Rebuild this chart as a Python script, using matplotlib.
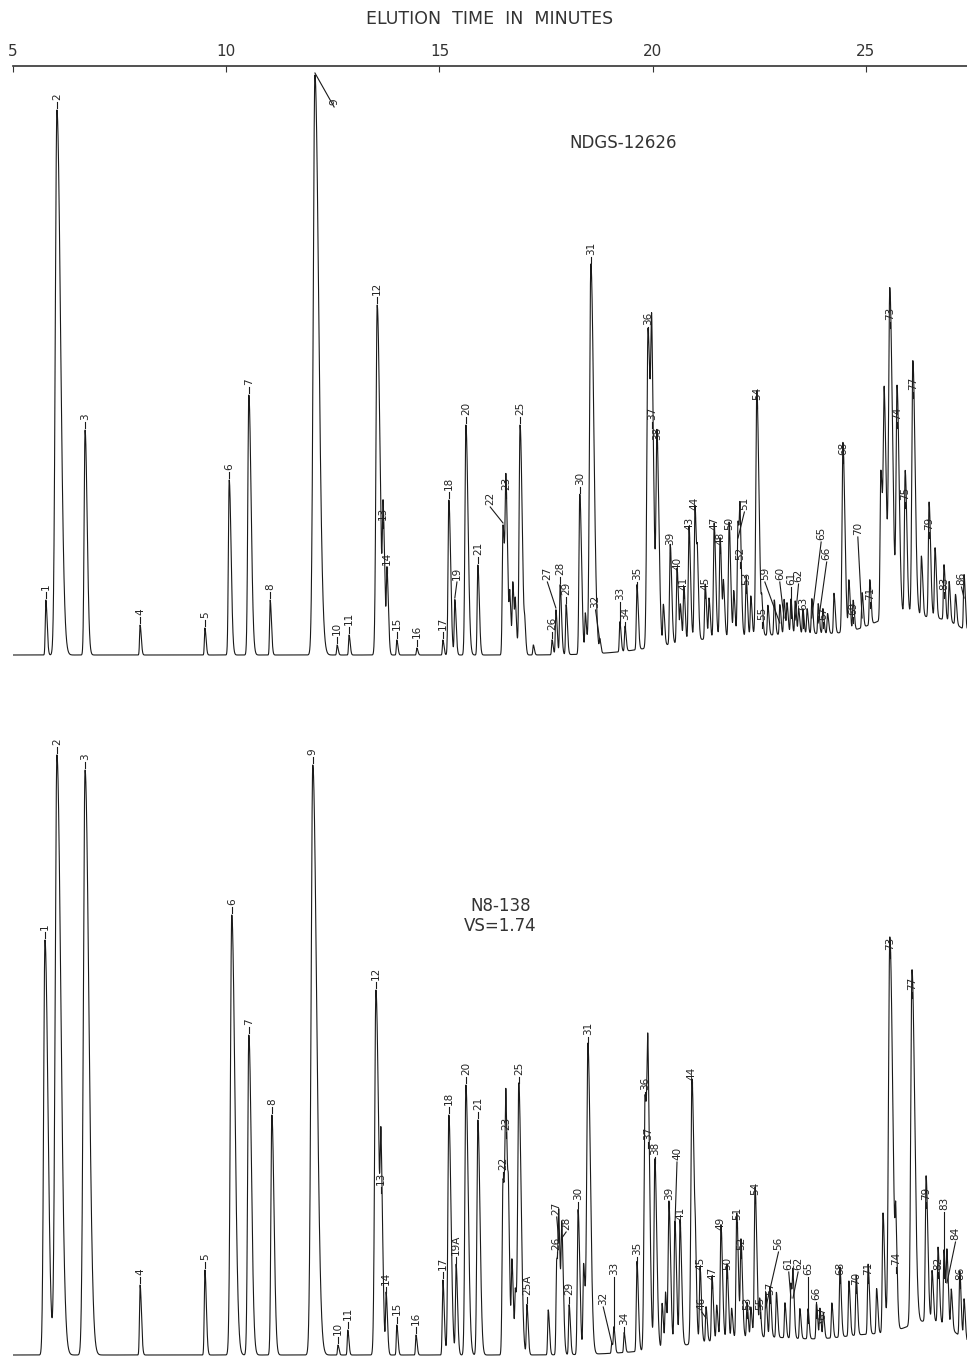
import numpy as np
import matplotlib.pyplot as plt

# ======================================================
# PEAK TABLES (retention time in min, height above baseline)
# ======================================================

top_labels = ["1", "2", "3", "4", "5", "6", "7", "8", "9", "10", "11", "12",
              "13", "14", "15", "16", "17", "18", "19", "20", "21", "22", "23",
              "25", "26", "27", "28", "29", "30", "31", "32", "33", "34", "35",
              "36", "37", "38", "39", "40", "41", "43", "44", "45", "47", "48",
              "50", "51", "52", "53", "54", "55", "59", "60", "61", "62", "63",
              "65", "66", "67", "68", "69", "70", "71", "73", "74", "75", "77",
              "79", "83", "86"]
top_times = [5.77, 6.03, 6.69, 7.98, 9.50, 10.07, 10.53, 11.03, 12.08, 12.60,
             12.88, 13.54, 13.68, 13.77, 14.00, 14.47, 15.08, 15.22, 15.36,
             15.62, 15.90, 16.49, 16.56, 16.89, 17.64, 17.73, 17.83, 17.97,
             18.29, 18.55, 18.76, 19.23, 19.35, 19.63, 19.89, 19.98, 20.10,
             20.41, 20.57, 20.73, 20.85, 20.99, 21.23, 21.44, 21.58, 21.79,
             22.00, 22.05, 22.19, 22.44, 22.56, 22.98, 23.08, 23.24, 23.34,
             23.52, 23.73, 23.88, 23.99, 24.46, 24.70, 24.91, 25.09, 25.56,
             25.73, 25.92, 26.10, 26.48, 26.83, 27.30]
top_heights = [55, 545, 225, 30, 27, 175, 260, 55, 580, 10, 20, 350, 125, 80,
               15, 7, 15, 155, 55, 230, 90, 130, 155, 230, 15, 45, 70, 50, 160,
               390, 12, 30, 25, 65, 320, 225, 205, 100, 75, 55, 115, 135, 55,
               115, 100, 115, 115, 85, 60, 245, 25, 30, 35, 35, 33, 25, 35, 30,
               25, 190, 30, 35, 45, 325, 225, 145, 255, 115, 55, 55]

# unlabelled minor peaks
top_minor_t = [16.65, 16.72, 16.78, 17.00, 17.20, 18.42, 20.25, 20.65, 21.05,
               21.32, 21.66, 21.90, 22.30, 22.70, 22.85, 23.15, 23.42, 23.62,
               24.10, 24.25, 24.60, 25.35, 25.43, 26.30, 26.62, 26.95, 27.10]
top_minor_h = [50, 70, 45, 20, 10, 40, 40, 35, 50, 40, 50, 45, 40, 30, 35, 30,
               25, 25, 20, 40, 50, 150, 210, 60, 70, 40, 30]

# unresolved hump (centre, height, width)
top_hump_t = [21.5, 24.0, 25.8, 27.0]
top_hump_h = [15, 18, 30, 25]
top_hump_w = [1.3, 1.2, 0.7, 0.6]

bot_labels = ["1", "2", "3", "4", "5", "6", "7", "8", "9", "10", "11", "12",
              "13", "14", "15", "16", "17", "18", "19A", "20", "21", "22", "23",
              "25", "25A", "26", "27", "28", "29", "30", "31", "32", "33", "34",
              "35", "36", "37", "38", "39", "40", "41", "44", "45", "46", "47",
              "49", "50", "51", "52", "53", "54", "55", "56", "57", "61", "62",
              "65", "66", "67", "68", "70", "71", "73", "74", "77", "79", "82",
              "83", "84", "86"]
bot_times = [5.75, 6.03, 6.69, 7.98, 9.50, 10.13, 10.53, 11.07, 12.03, 12.62,
             12.85, 13.51, 13.63, 13.75, 14.00, 14.45, 15.08, 15.22, 15.39,
             15.62, 15.90, 16.49, 16.56, 16.86, 17.05, 17.75, 17.80, 17.87,
             18.04, 18.25, 18.48, 19.04, 19.09, 19.33, 19.63, 19.82, 19.89,
             20.05, 20.38, 20.52, 20.64, 20.92, 21.11, 21.25, 21.39, 21.60,
             21.74, 21.97, 22.07, 22.21, 22.40, 22.51, 22.65, 22.75, 23.24,
             23.29, 23.64, 23.84, 23.92, 24.39, 24.77, 25.05, 25.56, 25.70,
             26.08, 26.41, 26.69, 26.83, 26.90, 27.20]
bot_heights = [415, 600, 585, 70, 85, 440, 320, 240, 590, 10, 25, 365, 160, 60,
               30, 20, 75, 240, 90, 270, 235, 175, 215, 270, 50, 95, 110, 115,
               50, 145, 310, 10, 25, 20, 90, 255, 205, 190, 145, 125, 125, 265,
               75, 35, 65, 115, 75, 125, 95, 35, 150, 35, 45, 50, 55, 55, 30,
               35, 30, 70, 60, 70, 395, 80, 355, 145, 75, 75, 70, 65]

bot_minor_t = [16.62, 16.70, 16.78, 17.55, 18.38, 20.22, 20.30, 21.00, 21.50,
               21.85, 22.30, 22.90, 23.10, 23.45, 24.00, 24.20, 24.60, 25.25,
               25.40, 26.55, 27.00, 27.30]
bot_minor_h = [70, 90, 60, 45, 90, 45, 55, 40, 35, 30, 30, 45, 35, 30, 25, 35,
               55, 45, 120, 50, 40, 40]

bot_hump_t = [22.5, 25.2, 26.6]
bot_hump_h = [18, 15, 30]
bot_hump_w = [1.6, 0.8, 0.6]

# label nudges (dx in min, dy in height units) for angled leaders
top_shift = {"9": (0.45, -40), "22": (-0.3, 10), "27": (-0.2, 20),
             "32": (-0.1, 25), "33": (0.0, 15), "59": (-0.35, 35),
             "60": (-0.1, 30), "61": (0.0, 25), "62": (0.08, 30),
             "63": (0.0, 10), "65": (0.22, 70), "66": (0.2, 55),
             "70": (-0.1, 75), "51": (0.15, 20), "19": (0.05, 10),
             "86": (-0.06, 5)}
bot_shift = {"27": (-0.05, 20), "28": (0.1, 0), "32": (-0.2, 30),
             "33": (0.0, 45), "56": (0.3, 50), "46": (-0.1, 0),
             "83": (0.0, 60), "84": (0.2, 35), "40": (0.05, 60),
             "61": (-0.05, 20), "62": (0.12, 20), "65": (0.0, 40),
             "66": (0.0, 10), "67": (0.05, -5)}


def trace(t, times, heights, mt, mh, ht, hh, hw):
    y = np.zeros_like(t)
    for c, h in zip(list(times) + list(mt), list(heights) + list(mh)):
        s = 0.011 + 0.00005 * h
        sl = np.where(t < c, s, 2.2 * s)
        y += h * np.exp(-0.5 * ((t - c) / sl) ** 2)
    for c, h, w in zip(ht, hh, hw):
        y += h * np.exp(-0.5 * ((t - c) / w) ** 2)
    return y


def draw_panel(ax, times, heights, labels, shift, mt, mh, ht, hh, hw):
    t = np.linspace(5.0, 27.4, 12000)
    y = trace(t, times, heights, mt, mh, ht, hh, hw)
    ax.plot(t, y, color="#1a1a1a", linewidth=0.8)
    for lab, c, h in zip(labels, times, heights):
        dx, dy = shift.get(lab, (0.0, 0.0))
        ax.plot([c, c + dx], [h + 2, h + 8 + dy],
                color="#1a1a1a", linewidth=0.8)
        ax.text(c + dx, h + 10 + dy, lab, rotation=90,
                ha="center", va="bottom", fontsize=7.5, color="#222222")


fig = plt.figure(figsize=(9.67, 13.62), dpi=100)
W, H = 967.0, 1362.0

# ======================================================
# TOP CHROMATOGRAM
# ======================================================

ax1 = fig.add_axes([13 / W, 1 - 662 / H, 954 / W, 596 / H])
draw_panel(ax1, top_times, top_heights, top_labels, top_shift,
           top_minor_t, top_minor_h, top_hump_t, top_hump_h, top_hump_w)
ax1.set_xlim(5.0, 27.37)
ax1.set_ylim(-7, 589)
for s in ["left", "right", "bottom"]:
    ax1.spines[s].set_visible(False)
ax1.spines["top"].set_linewidth(1.2)
ax1.spines["top"].set_color("#333333")
ax1.set_yticks([])
ax1.xaxis.tick_top()
ax1.set_xticks([5, 10, 15, 20, 25])
ax1.tick_params(axis="x", direction="in", length=4, pad=5,
                labelsize=11, colors="#333333")
ax1.text(0.64, 0.87, "NDGS-12626", transform=ax1.transAxes,
         ha="center", va="center", fontsize=12, color="#333333")

fig.text(490 / W, 1 - 19 / H, "ELUTION  TIME  IN  MINUTES",
         ha="center", va="center", fontsize=12.5, color="#333333")

# ======================================================
# BOTTOM CHROMATOGRAM
# ======================================================

ax2 = fig.add_axes([13 / W, 0.0, 954 / W, 622 / H])
draw_panel(ax2, bot_times, bot_heights, bot_labels, bot_shift,
           bot_minor_t, bot_minor_h, bot_hump_t, bot_hump_h, bot_hump_w)
ax2.set_xlim(5.0, 27.37)
ax2.set_ylim(-7, 615)
ax2.axis("off")
ax2.text(0.511, 0.717, "N8-138\nVS=1.74", transform=ax2.transAxes,
         ha="center", va="center", fontsize=12, color="#333333",
         linespacing=1.1)

fig.savefig("out.png", dpi=100)
